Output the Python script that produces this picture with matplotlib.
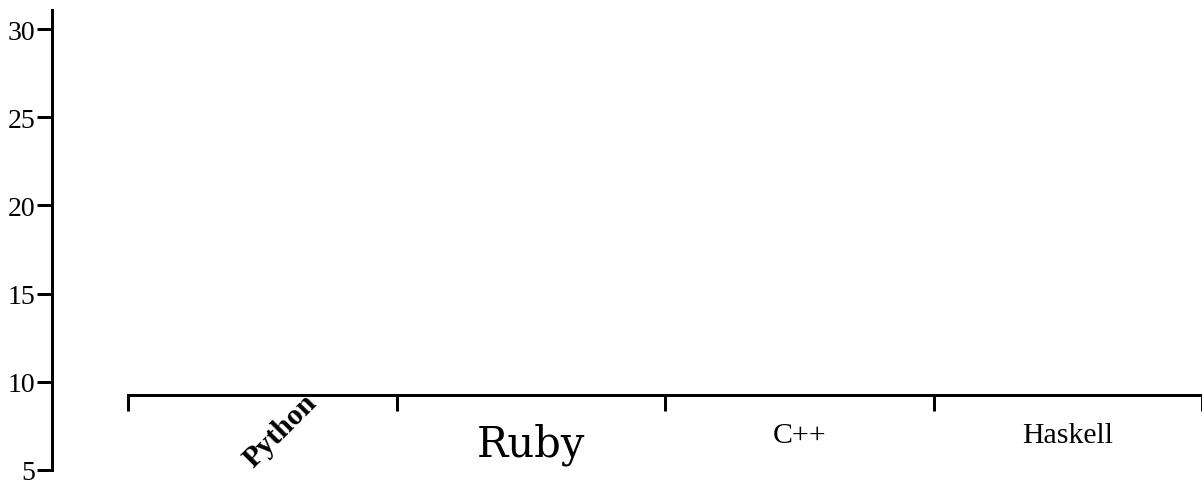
import matplotlib
matplotlib.use("Agg")
import matplotlib.pyplot as plt
import numpy as np

# ---- data ----
categories = ["Python", "Ruby", "C++", "Haskell"]
y_ticks = [5, 10, 15, 20, 25, 30]
y_min, y_max = 5, 31.08
x_axis_value = 9.25   # where the category axis crosses the value axis

PX = 1 / 100 * 72  # points per pixel at dpi 100

fig = plt.figure(figsize=(12.02, 4.85), dpi=100)
ax = fig.add_axes([0, 0, 1, 1])
ax.set_facecolor("none")
fig.patch.set_facecolor("white")

ax.set_xlim(-0.4771, 3.9929)
ax.set_ylim(4.2063, 31.701)

for s in ["top", "right"]:
    ax.spines[s].set_visible(False)

lw = 3 * PX
ax.spines["left"].set_position(("data", -0.2849))
ax.spines["left"].set_bounds(y_min, y_max)
ax.spines["left"].set_linewidth(lw)
ax.spines["bottom"].set_position(("data", x_axis_value))
ax.spines["bottom"].set_bounds(0, len(categories) + 0.5)
ax.spines["bottom"].set_linewidth(lw)

ax.set_yticks(y_ticks)
ax.set_yticklabels([str(t) for t in y_ticks])
ax.tick_params(axis="y", direction="out", length=15 * PX, width=lw,
               pad=1.5 * PX, labelsize=20, colors="black")
for lab in ax.get_yticklabels():
    lab.set_fontfamily("Liberation Serif")

ax.set_xticks(np.arange(len(categories) + 1))
ax.set_xticklabels([])
ax.tick_params(axis="x", direction="out", length=16 * PX, width=lw)

# category labels, each with its own style
styles = {
    "Python": dict(family="Liberation Serif", size=21.5, weight="bold",
                   rotation=45, ha="right", va="baseline",
                   rotation_mode="anchor", off=(55 * PX, -8 * PX)),
    "Ruby": dict(family="DejaVu Serif", size=30, weight="normal",
                 rotation=0, ha="center", va="baseline",
                 rotation_mode="default", off=(0, -60 * PX)),
    "C++": dict(family="Liberation Serif", size=21.5, weight="normal",
                rotation=0, ha="center", va="baseline",
                rotation_mode="default", off=(0, -46.5 * PX)),
    "Haskell": dict(family="Liberation Serif", size=21.5, weight="normal",
                    rotation=0, ha="center", va="baseline",
                    rotation_mode="default", off=(0, -46.5 * PX)),
}
for i, cat in enumerate(categories):
    st = styles[cat]
    ax.annotate(cat, xy=(i + 0.5, x_axis_value), xycoords="data",
                xytext=st["off"], textcoords="offset points",
                fontfamily=st["family"], fontsize=st["size"],
                fontweight=st["weight"], rotation=st["rotation"],
                ha=st["ha"], va=st["va"], rotation_mode=st["rotation_mode"],
                color="black", annotation_clip=False)

fig.savefig("out.png", dpi=100)
